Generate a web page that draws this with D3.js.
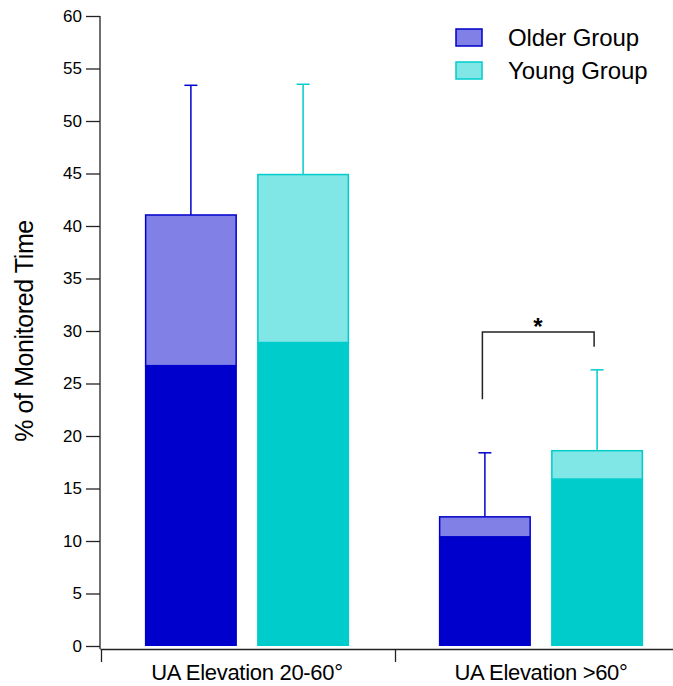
<!DOCTYPE html>
<html>
<head>
<meta charset="utf-8">
<script src="https://cdn.jsdelivr.net/npm/d3@7"></script>
<style>
  body { margin: 0; background: #fff; }
  text { font-family: "Liberation Sans", Arial, sans-serif; fill: #000; }
</style>
</head>
<body>
<div id="chart"></div>
<script>
// values
var categories = ["UA Elevation 20-60°", "UA Elevation >60°"];
var groups = ["Older Group", "Young Group"];
var olderLower = [26.7, 10.4];
var olderTotal = [41.05, 12.3];
var olderErrTop = [53.4, 18.4];
var youngLower = [28.9, 15.9];
var youngTotal = [44.9, 18.6];
var youngErrTop = [53.5, 26.3];
var yTicks = [0, 5, 10, 15, 20, 25, 30, 35, 40, 45, 50, 55, 60];
// significance bracket between the two groups in the second category
var sigTop = 29.9, sigLeftEnd = 23.5, sigRightEnd = 28.5;

var darkCol = {"Older Group": "#0000cc", "Young Group": "#00cccc"},
    lightCol = {"Older Group": "#8080e6", "Young Group": "#80e6e6"};

var W = 673, H = 686;

var svg = d3.select("#chart").append("svg")
    .attr("width", W).attr("height", H);

var y = d3.scaleLinear().domain([0, 60]).range([646, 16]);

var x0 = d3.scaleBand().domain(categories).range([100, 688]);
var x1 = d3.scaleBand().domain(groups)
    .range([0, x0.bandwidth()])
    .paddingInner(0.18).paddingOuter(0.40);

var rows = [];
categories.forEach(function(c, i) {
  rows.push({cat: c, grp: "Older Group", lower: olderLower[i], total: olderTotal[i], err: olderErrTop[i]});
  rows.push({cat: c, grp: "Young Group", lower: youngLower[i], total: youngTotal[i], err: youngErrTop[i]});
});

function bx(d) { return x0(d.cat) + x1(d.grp); }
function cx(d) { return bx(d) + x1.bandwidth() / 2; }

// y axis
var yAxis = d3.axisLeft(y).tickValues(yTicks).tickSize(14).tickSizeOuter(0).tickPadding(4);
var gy = svg.append("g").attr("transform", "translate(100,0)").call(yAxis);
gy.selectAll("text").style("font-size", "17px");
gy.selectAll("line, path").attr("stroke", "#222").attr("stroke-width", 1.3);
gy.select(".domain").attr("d", "M0,649V16");

// y title
svg.append("text")
  .attr("transform", "translate(33," + 331 + ") rotate(-90)")
  .attr("text-anchor", "middle")
  .style("font-size", "25px")
  .style("letter-spacing", "-0.4px")
  .text("% of Monitored Time");

// bars
var bars = svg.append("g").selectAll("g").data(rows).enter().append("g");

bars.append("rect")
  .attr("x", bx)
  .attr("width", x1.bandwidth())
  .attr("y", function(d) { return y(d.lower); })
  .attr("height", function(d) { return y(0) - y(d.lower); })
  .attr("fill", function(d) { return darkCol[d.grp]; });

bars.append("rect")
  .attr("x", function(d) { return bx(d) + 0.75; })
  .attr("width", x1.bandwidth() - 1.5)
  .attr("y", function(d) { return y(d.total); })
  .attr("height", function(d) { return y(d.lower) - y(d.total); })
  .attr("fill", function(d) { return lightCol[d.grp]; })
  .attr("stroke", function(d) { return darkCol[d.grp]; })
  .attr("stroke-width", 1.5);

// error bars
bars.append("line")
  .attr("x1", cx).attr("x2", cx)
  .attr("y1", function(d) { return y(d.total); })
  .attr("y2", function(d) { return y(d.err); })
  .attr("stroke", function(d) { return darkCol[d.grp]; })
  .attr("stroke-width", 1.5);
bars.append("line")
  .attr("x1", function(d) { return cx(d) - 6.5; })
  .attr("x2", function(d) { return cx(d) + 6.5; })
  .attr("y1", function(d) { return y(d.err); })
  .attr("y2", function(d) { return y(d.err); })
  .attr("stroke", function(d) { return darkCol[d.grp]; })
  .attr("stroke-width", 1.5);

// x axis
var xAxis = d3.axisBottom(x0).tickSize(0).tickPadding(15).tickSizeOuter(0);
var gx = svg.append("g").attr("transform", "translate(0,649)").call(xAxis);
gx.select(".domain").attr("stroke", "#222").attr("stroke-width", 1.3);
gx.selectAll("text").style("font-size", "22px").style("letter-spacing", "-0.3px");
gx.selectAll(".sep").data(categories).enter().append("line")
  .attr("class", "sep")
  .attr("x1", function(d) { return x0(d) + 1.5; })
  .attr("x2", function(d) { return x0(d) + 1.5; })
  .attr("y1", 0).attr("y2", 13)
  .attr("stroke", "#222").attr("stroke-width", 1.3);

// significance bracket
var sig = [rows[2], rows[3]];
svg.append("path")
  .attr("d", "M" + (cx(sig[0]) - 2.5) + "," + y(sigLeftEnd) +
             "V" + y(sigTop) + "H" + (cx(sig[1]) - 3) + "V" + y(sigRightEnd))
  .attr("fill", "none").attr("stroke", "#222").attr("stroke-width", 1.5);
svg.append("text")
  .attr("x", (cx(sig[0]) + cx(sig[1])) / 2 - 3)
  .attr("y", y(sigTop) + 3)
  .attr("text-anchor", "middle")
  .style("font-size", "24px")
  .style("font-weight", "bold")
  .text("*");

// legend
var leg = svg.append("g").selectAll("g").data(groups).enter().append("g")
  .attr("transform", function(d, i) { return "translate(456," + (29 + i * 33) + ")"; });
leg.append("rect")
  .attr("width", 26).attr("height", 17)
  .attr("fill", function(d) { return lightCol[d]; })
  .attr("stroke", function(d) { return darkCol[d]; })
  .attr("stroke-width", 1.5);
leg.append("text")
  .attr("x", 52).attr("y", 17)
  .style("font-size", "24px")
  .style("letter-spacing", "-0.1px")
  .text(function(d) { return d; });
</script>
</body>
</html>
